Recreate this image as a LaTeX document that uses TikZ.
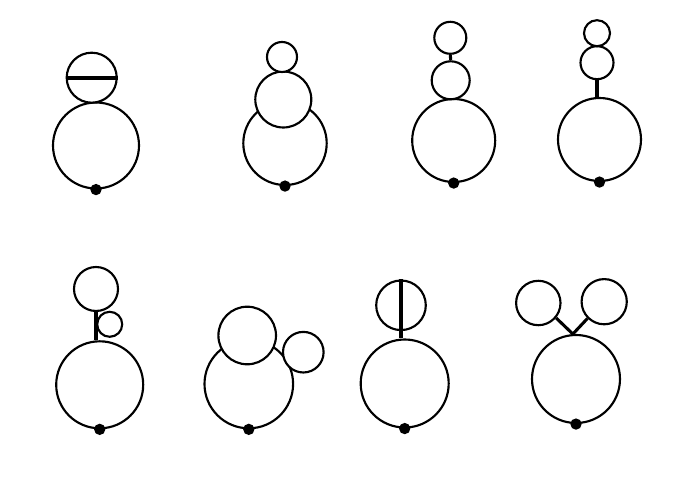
\documentclass[tikz,border=0pt]{standalone}
\begin{document}
\begin{tikzpicture}[x=0.75pt,y=0.75pt,yscale=-1,xscale=1,
  ring/.style={circle, draw, fill=white, line width=1.6pt, inner sep=0pt, minimum size={#1*1.5pt}},
  vertex/.style={circle, fill=black, inner sep=0pt, minimum size=8.5pt},
  stem/.style={line width=2.3pt}]
\useasboundingbox (0,0) rectangle (700,491);

%Diagram 1
\node[ring=43] (big1) at (96,145.5) {};
\node[ring=25] (top1) at (91.7,77.7) {};
\draw[stem, line width=3pt] (top1.west) -- (top1.east);

%Diagram 2
\node[ring=41.7] (big2) at (285,143.3) {};
\node[ring=28] (mid2) at (283.3,99.5) {};
\node[ring=15] (top2) at (282,57) {};

%Diagram 3
\node[ring=41.5] (big3) at (453.7,140.5) {};
\node[ring=19] (mid3) at (450.7,80.3) {};
\node[ring=16] (top3) at (450.3,37.8) {};
\draw[stem] (top3.south) -- (mid3.north);

%Diagram 4
\node[ring=41.5] (big4) at (599.5,139.5) {};
\node[ring=16.5] (mid4) at (597,62.7) {};
\node[ring=13] (top4) at (597,33.2) {};
\draw[stem] (mid4.south) -- (mid4.south |- big4.north);

%Diagram 5
\node[ring=43.5] (big5) at (99.7,384.8) {};
\node[ring=22] (top5) at (96,289) {};
\node[ring=12.5] (small5) at (109.7,324.3) {};
\draw[stem] (top5.south) -- (top5.south |- big5.north);

%Diagram 6
\node[ring=44.3] (big6) at (248.8,384) {};
\node[ring=28.8] (up6) at (247.2,335.5) {};
\node[ring=20.3] (right6) at (303.3,352.2) {};

%Diagram 7
\node[ring=44] (big7) at (404.7,383.5) {};
\node[ring=24.8] (top7) at (401,305.3) {};
\draw[stem] (top7.north) -- (top7.north |- big7.north);

%Diagram 8
\node[ring=44] (big8) at (576,379) {};
\node[ring=22.2] (left8) at (538.3,303) {};
\node[ring=22.6] (right8) at (604.2,301.7) {};
\draw[stem] (big8.94) -- (left8.-40);
\draw[stem] (big8.94) -- (right8.-135);

% external vertices
\foreach \i in {1,...,8}
  \node[vertex] (dot\i) at (big\i.south) {};

\end{tikzpicture}
\end{document}
